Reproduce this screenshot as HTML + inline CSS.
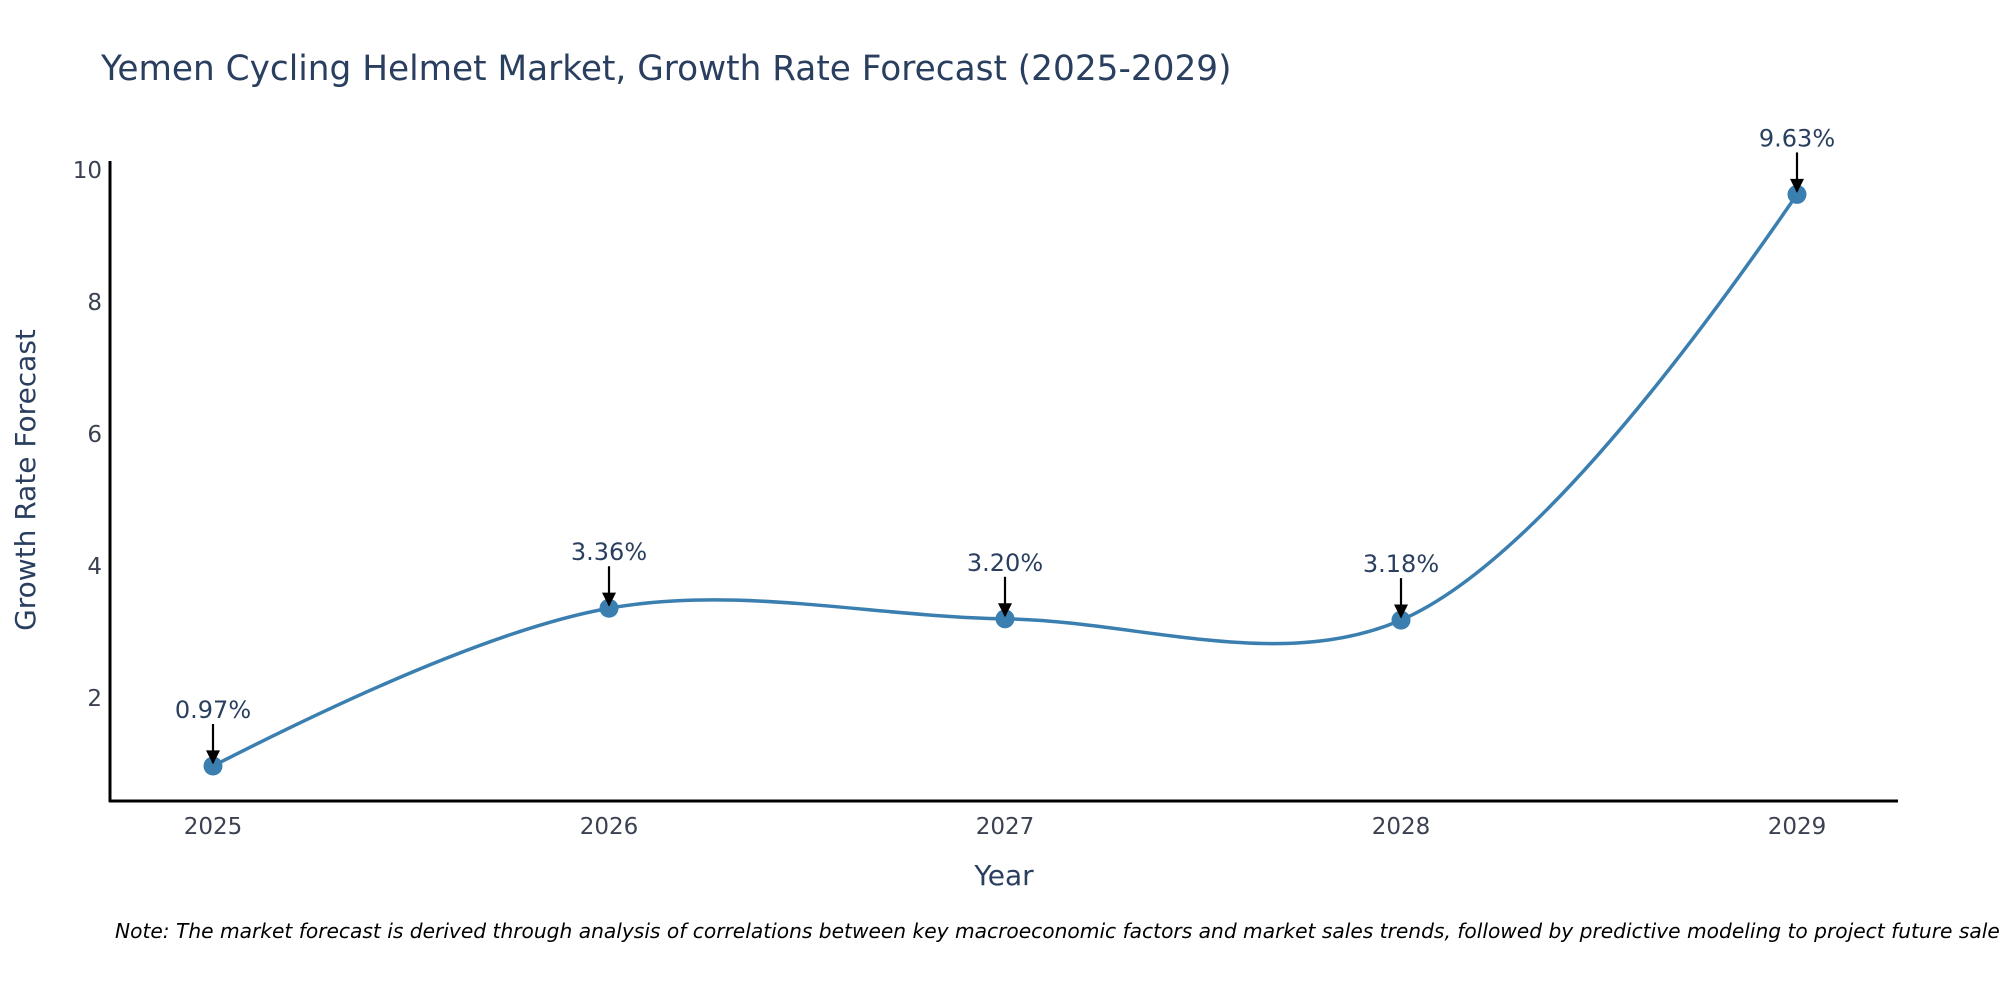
<!DOCTYPE html>
<html><head><meta charset="utf-8"><style>
html,body{margin:0;padding:0;background:#fff;overflow:hidden;}
svg text{font-family:"DejaVu Sans","Liberation Sans",sans-serif;}
</style></head><body>
<svg id="chart" width="2000" height="1000" xmlns="http://www.w3.org/2000/svg">
<defs><marker id="arr" viewBox="0 0 10 10" refX="9" refY="5" markerWidth="16" markerHeight="14" markerUnits="userSpaceOnUse" orient="auto"><path d="M0,0 L10,5 L0,10 z" fill="#000"/></marker></defs>
<text x="101" y="80" font-size="34.3" fill="#2a3f5f">Yemen Cycling Helmet Market, Growth Rate Forecast (2025-2029)</text>
<g id="plot"></g>
<line x1="110" y1="161" x2="110" y2="802" stroke="#000" stroke-width="3"/>
<line x1="109" y1="801" x2="1898" y2="801" stroke="#000" stroke-width="3"/>
<text x="1004" y="885" font-size="28" fill="#2a3f5f" text-anchor="middle">Year</text>
<text transform="translate(35,480) rotate(-90)" font-size="28" fill="#2a3f5f" text-anchor="middle">Growth Rate Forecast</text>
<text x="115" y="938" font-size="20.2" font-style="italic" fill="#000">Note: The market forecast is derived through analysis of correlations between key macroeconomic factors and market sales trends, followed by predictive modeling to project future sales.</text>
</svg>
<script>
const years = [2025, 2026, 2027, 2028, 2029];
const values = [0.97, 3.36, 3.20, 3.18, 9.63];
const labels = ["0.97%", "3.36%", "3.20%", "3.18%", "9.63%"];
const yTicks = [2, 4, 6, 8, 10];

const NS = "http://www.w3.org/2000/svg";
const g = document.getElementById('plot');
const xScale = v => 213 + (v - 2025) * 396;
const yScale = v => 698 - (v - 2) * 66;
function el(tag, attrs, txt) {
  const e = document.createElementNS(NS, tag);
  for (const k in attrs) e.setAttribute(k, attrs[k]);
  if (txt !== undefined) e.textContent = txt;
  g.appendChild(e);
  return e;
}
yTicks.forEach(t => {
  const e = el('text', {x: 102, y: yScale(t) + 8, 'font-size': 23, fill: '#3a4150', 'text-anchor': 'end'}, String(t));
  
  
});
years.forEach(yr => {
  const e = el('text', {x: xScale(yr), y: 834, 'font-size': 23, fill: '#3a4150', 'text-anchor': 'middle'}, String(yr));
  
  
});
const pts = years.map((y, i) => [xScale(y), yScale(values[i])]);
function tangent(p0, p1, p2, s) {
  const d1x = p0[0]-p1[0], d1y = p0[1]-p1[1], d2x = p2[0]-p1[0], d2y = p2[1]-p1[1];
  const d1a = Math.pow(d1x*d1x + d1y*d1y, 0.25), d2a = Math.pow(d2x*d2x + d2y*d2y, 0.25);
  const nx = (d2a*d2a*d1x - d1a*d1a*d2x)*s, ny = (d2a*d2a*d1y - d1a*d1a*d2y)*s;
  const den1 = 3*d2a*(d1a+d2a), den2 = 3*d1a*(d1a+d2a);
  return [[p1[0]+nx/den1, p1[1]+ny/den1], [p1[0]-nx/den2, p1[1]-ny/den2]];
}
const tg = [];
for (let i = 1; i < pts.length-1; i++) tg.push(tangent(pts[i-1], pts[i], pts[i+1], 1));
let d = `M${pts[0]} Q${tg[0][0]} ${pts[1]}`;
for (let i = 2; i < pts.length-1; i++) d += ` C${tg[i-2][1]} ${tg[i-1][0]} ${pts[i]}`;
d += ` Q${tg[tg.length-1][1]} ${pts[pts.length-1]}`;
const line = el('path', {d: d, fill: 'none', stroke: '#3a7fb0', 'stroke-width': 3.5});


pts.forEach((p, i) => {
  const c = el('circle', {cx: p[0], cy: p[1], r: 9.5, fill: '#3a7fb0'});
  
  
  const a = el('line', {x1: p[0], y1: p[1]-42, x2: p[0], y2: p[1]-3, stroke: '#000', 'stroke-width': 2.2, 'marker-end': 'url(#arr)'});
  
  
  const t = el('text', {x: p[0], y: p[1]-48, 'font-size': 24, fill: '#2a3f5f', 'text-anchor': 'middle'}, labels[i]);
  
  
});
</script>
</body></html>
